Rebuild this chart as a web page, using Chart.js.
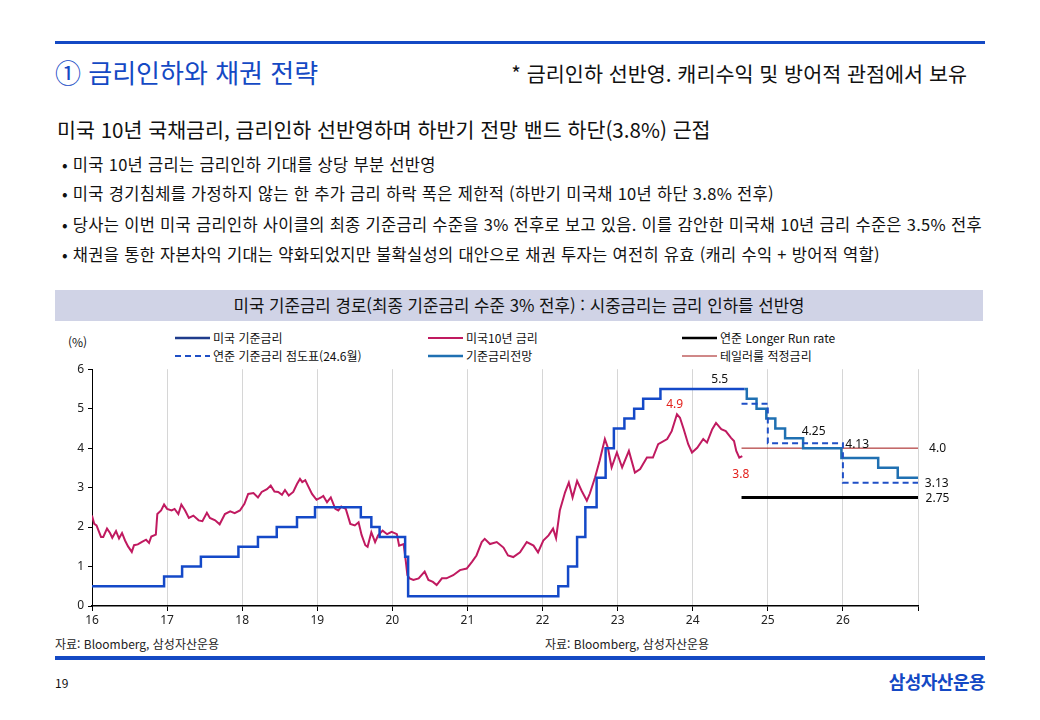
<!DOCTYPE html>
<html lang="ko">
<head>
<meta charset="utf-8">
<script src="https://cdn.jsdelivr.net/npm/chart.js@4.4.1/dist/chart.umd.min.js"></script>
<style>
  html, body { margin: 0; padding: 0; background: #fff; }
  body {
    width: 1040px; height: 720px; position: relative; overflow: hidden;
    font-family: "Noto Sans CJK KR", "Noto Sans", sans-serif; color: #111;
  }
  .abs { position: absolute; white-space: nowrap; line-height: 1; }
  .rule { position: absolute; left: 55px; width: 930px; background: #1449c4; }
  .bullet { font-size: 16.5px; left: 62px; letter-spacing: 0.3px; }
  #band {
    position: absolute; left: 55px; top: 290px; width: 928px; height: 31px;
    background: #d0d3e6; font-size: 16.8px; text-align: center; line-height: 31px;
  }
  .lg { position: absolute; font-size: 12px; display: flex; align-items: center; white-space: nowrap; }
  .lg svg { margin-right: 3px; }
  .src { font-size: 12px; top: 638px; color: #222; }
  #chartBox { position: absolute; left: 40px; top: 358px; width: 960px; height: 272px; }
</style>
</head>
<body>
<div class="rule" style="top:41px;height:3px;"></div>
<div class="abs" style="left:55px;top:59px;font-size:26px;color:#1449c4;">① 금리인하와 채권 전략</div>
<div class="abs" style="right:73px;top:63px;font-size:20.7px;">* 금리인하 선반영. 캐리수익 및 방어적 관점에서 보유</div>
<div class="abs" style="left:57px;top:119px;font-size:20.6px;">미국 10년 국채금리, 금리인하 선반영하며 하반기 전망 밴드 하단(3.8%) 근접</div>
<div class="abs bullet" style="top:156px;">• 미국 10년 금리는 금리인하 기대를 상당 부분 선반영</div>
<div class="abs bullet" style="top:185px;">• 미국 경기침체를 가정하지 않는 한 추가 금리 하락 폭은 제한적 (하반기 미국채 10년 하단 3.8% 전후)</div>
<div class="abs bullet" style="top:216px;">• 당사는 이번 미국 금리인하 사이클의 최종 기준금리 수준을 3% 전후로 보고 있음. 이를 감안한 미국채 10년 금리 수준은 3.5% 전후</div>
<div class="abs bullet" style="top:246px;">• 채권을 통한 자본차익 기대는 약화되었지만 불확실성의 대안으로 채권 투자는 여전히 유효 (캐리 수익 + 방어적 역할)</div>
<div id="band">미국 기준금리 경로(최종 기준금리 수준 3% 전후) : 시중금리는 금리 인하를 선반영</div>
<div class="abs" style="left:68px;top:336px;font-size:12px;">(%)</div>
<div id="legend"></div>
<div id="chartBox"><canvas id="rateChart" width="960" height="272"></canvas></div>
<div class="abs src" style="left:55px;">자료: Bloomberg, 삼성자산운용</div>
<div class="abs src" style="left:545px;">자료: Bloomberg, 삼성자산운용</div>
<div class="rule" style="top:656px;height:4px;"></div>
<div class="abs" style="left:55px;top:677px;font-size:12px;">19</div>
<div class="abs" style="right:55px;top:672px;font-size:18px;font-weight:bold;color:#1449c4;letter-spacing:-0.5px;">삼성자산운용</div>

<script>
// 미국 기준금리 (상단, 변경 시점)
const fedX = [16.00, 16.96, 17.20, 17.45, 17.95, 18.21, 18.46, 18.73, 18.97, 19.58, 19.72, 19.83,
              20.17, 20.21, 22.21, 22.34, 22.46, 22.57, 22.72, 22.84, 22.95, 23.09, 23.22, 23.34, 23.57, 24.69];
const fedY = [0.50, 0.75, 1.00, 1.25, 1.50, 1.75, 2.00, 2.25, 2.50, 2.25, 2.00, 1.75,
              1.25, 0.25, 0.50, 1.00, 1.75, 2.50, 3.25, 4.00, 4.50, 4.75, 5.00, 5.25, 5.50, 5.50];

// 기준금리전망
const outlookX = [24.69, 24.72, 24.85, 24.98, 25.10, 25.23, 25.47, 25.98, 26.47, 26.73, 27.00];
const outlookY = [5.50, 5.25, 5.00, 4.75, 4.50, 4.25, 4.00, 3.75, 3.50, 3.25, 3.25];

// 연준 점도표 (24.6월)
const dotX = [24.65, 25.00, 26.00, 27.00];
const dotY = [5.125, 4.125, 3.125, 3.125];

// 연준 Longer Run rate, 테일러룰 적정금리
const longRunX = [24.65, 27.00];
const longRunY = [2.75, 2.75];
const taylorX = [24.65, 27.00];
const taylorY = [4.00, 4.00];

// 미국 10년 금리
const ustX = [16.00, 16.03, 16.06, 16.12, 16.15, 16.20, 16.24, 16.27, 16.32, 16.36, 16.40, 16.44, 16.48, 16.53,
              16.56, 16.61, 16.66, 16.72, 16.76, 16.79, 16.85, 16.87, 16.92, 16.96, 17.00, 17.06, 17.10, 17.15,
              17.19, 17.24, 17.29, 17.35, 17.42, 17.47, 17.53, 17.57, 17.64, 17.70, 17.77, 17.84, 17.90, 17.97,
              18.03, 18.08, 18.15, 18.21, 18.26, 18.33, 18.38, 18.43, 18.48, 18.53, 18.57, 18.62, 18.68, 18.73,
              18.77, 18.80, 18.84, 18.88, 18.93, 18.99, 19.05, 19.08, 19.13, 19.18, 19.24, 19.28, 19.32, 19.38,
              19.44, 19.50, 19.55, 19.59, 19.64, 19.67, 19.72, 19.77, 19.81, 19.87, 19.93, 19.99, 20.06, 20.09,
              20.15, 20.18, 20.20, 20.23, 20.28, 20.35, 20.43, 20.48, 20.54, 20.59, 20.66, 20.72, 20.81, 20.90,
              20.99, 21.06, 21.12, 21.19, 21.23, 21.30, 21.39, 21.48, 21.54, 21.61, 21.70, 21.79, 21.88, 21.94,
              22.01, 22.08, 22.14, 22.18, 22.23, 22.30, 22.35, 22.40, 22.46, 22.52, 22.59, 22.63, 22.70, 22.76,
              22.83, 22.87, 22.92, 22.99, 23.06, 23.15, 23.23, 23.30, 23.39, 23.47, 23.54, 23.66, 23.72, 23.79,
              23.83, 23.88, 23.94, 23.99, 24.06, 24.14, 24.19, 24.26, 24.31, 24.38, 24.44, 24.51, 24.55, 24.58,
              24.62, 24.66];
const ustY = [2.29, 2.08, 2.04, 1.75, 1.75, 1.96, 1.85, 1.73, 1.90, 1.71, 1.85, 1.66, 1.51, 1.37,
              1.54, 1.56, 1.62, 1.68, 1.60, 1.76, 1.81, 2.33, 2.42, 2.57, 2.46, 2.42, 2.46, 2.33,
              2.57, 2.42, 2.23, 2.29, 2.17, 2.15, 2.36, 2.23, 2.17, 2.07, 2.33, 2.40, 2.35, 2.42,
              2.59, 2.84, 2.86, 2.75, 2.89, 2.96, 3.05, 2.90, 2.89, 2.82, 2.94, 2.80, 2.89, 3.09,
              3.22, 3.14, 3.19, 3.03, 2.84, 2.69, 2.75, 2.79, 2.63, 2.75, 2.46, 2.42, 2.52, 2.46,
              2.08, 2.04, 2.12, 1.80, 1.54, 1.50, 1.87, 1.62, 1.79, 1.91, 1.82, 1.88, 1.82, 1.53,
              1.57, 1.12, 0.78, 0.70, 0.66, 0.70, 0.87, 0.66, 0.61, 0.53, 0.70, 0.70, 0.78, 0.91,
              0.95, 1.12, 1.28, 1.62, 1.70, 1.57, 1.62, 1.48, 1.28, 1.24, 1.36, 1.62, 1.53, 1.36,
              1.66, 1.79, 1.96, 1.72, 2.42, 2.88, 3.13, 2.75, 3.17, 2.92, 2.67, 2.85, 3.26, 3.68,
              4.23, 4.01, 3.51, 3.89, 3.51, 3.93, 3.38, 3.47, 3.76, 3.76, 4.10, 4.23, 4.43, 4.86,
              4.77, 4.48, 4.10, 3.89, 4.01, 4.23, 4.14, 4.48, 4.64, 4.48, 4.43, 4.26, 4.18, 3.93,
              3.76, 3.80];

// 값 표시 라벨
const noteText = ['5.5', '4.9', '3.8', '4.25', '4.13', '4.0', '3.13', '2.75'];
const noteX = [24.36, 23.76, 24.64, 25.61, 26.19, 27.26, 27.25, 27.26];
const noteY = [5.74, 5.11, 3.32, 4.43, 4.10, 4.00, 3.10, 2.72];
const noteColor = ['#111', '#e3211c', '#e3211c', '#111', '#111', '#111', '#111', '#111'];

const xTicks = [16, 17, 18, 19, 20, 21, 22, 23, 24, 25, 26];

const pts = (xs, ys) => xs.map((x, i) => ({ x: x, y: ys[i] }));

const datasets = [
  { label: '미국 기준금리', data: pts(fedX, fedY), borderColor: '#1449c8', borderWidth: 2.5, stepped: 'before', legendColor: '#1f3c8c' },
  { label: '연준 기준금리 점도표(24.6월)', data: pts(dotX, dotY), borderColor: '#1f4fc6', borderWidth: 2, borderDash: [6, 4], stepped: 'before' },
  { label: '미국10년 금리', data: pts(ustX, ustY), borderColor: '#c01a60', borderWidth: 2 },
  { label: '기준금리전망', data: pts(outlookX, outlookY), borderColor: '#1f70b2', borderWidth: 2.5, stepped: 'before' },
  { label: '연준 Longer Run rate', data: pts(longRunX, longRunY), borderColor: '#000000', borderWidth: 3 },
  { label: '테일러룰 적정금리', data: pts(taylorX, taylorY), borderColor: '#a01010', borderWidth: 1 }
];
datasets.forEach(d => { d.pointRadius = 0; d.fill = false; });

// legend: 3 columns x 2 rows
const legendSlots = [[175, 329], [175, 347], [428, 329], [428, 347], [682, 329], [682, 347]];
const legendEl = document.getElementById('legend');
datasets.forEach((d, k) => {
  const item = document.createElement('div');
  item.className = 'lg';
  item.style.left = legendSlots[k][0] + 'px';
  item.style.top = legendSlots[k][1] + 'px';
  const dash = d.borderDash ? `stroke-dasharray="${d.borderDash.join(' ')}"` : '';
  const w = Math.min(d.borderWidth, 2.5);
  item.innerHTML = `<svg width="35" height="12"><line x1="0" y1="6" x2="35" y2="6" stroke="${d.legendColor || d.borderColor}" stroke-width="${w}" ${dash}/></svg><span>${d.label}</span>`;
  legendEl.appendChild(item);
});

const notesPlugin = {
  id: 'notes',
  afterDraw(chart) {
    const { ctx, scales } = chart;
    ctx.save();
    ctx.font = '12px "Noto Sans", sans-serif';
    ctx.textAlign = 'center';
    ctx.textBaseline = 'middle';
    noteText.forEach((t, i) => {
      ctx.fillStyle = noteColor[i];
      ctx.fillText(t, scales.x.getPixelForValue(noteX[i]), scales.y.getPixelForValue(noteY[i]));
    });
    ctx.restore();
  }
};

new Chart(document.getElementById('rateChart').getContext('2d'), {
  type: 'line',
  data: { datasets: datasets },
  options: {
    responsive: false,
    animation: false,
    events: [],
    layout: { padding: { top: 10, right: 82, left: 0, bottom: 0 } },
    plugins: { legend: { display: false }, tooltip: { enabled: false } },
    scales: {
      x: {
        type: 'linear', min: 16, max: 27,
        afterBuildTicks: s => { s.ticks = xTicks.concat([27]).map(v => ({ value: v })); },
        afterFit: s => { s.height = 24; },
        ticks: {
          autoSkip: false, maxRotation: 0, padding: 2, color: '#222',
          font: { family: '"Noto Sans", sans-serif', size: 12 },
          callback: v => (xTicks.includes(v) ? String(v) : '')
        },
        grid: { color: '#d6d6d6', lineWidth: 1, tickColor: '#000', tickLength: 5 },
        border: { color: '#000', width: 1.5 }
      },
      y: {
        min: 0, max: 6,
        afterFit: s => { s.width = 52; },
        ticks: {
          stepSize: 1, padding: 4, color: '#222',
          font: { family: '"Noto Sans", sans-serif', size: 12 }
        },
        grid: { drawOnChartArea: false, tickColor: '#000', tickLength: 4 },
        border: { color: '#000', width: 1 }
      }
    }
  },
  plugins: [notesPlugin]
});
</script>
</body>
</html>
